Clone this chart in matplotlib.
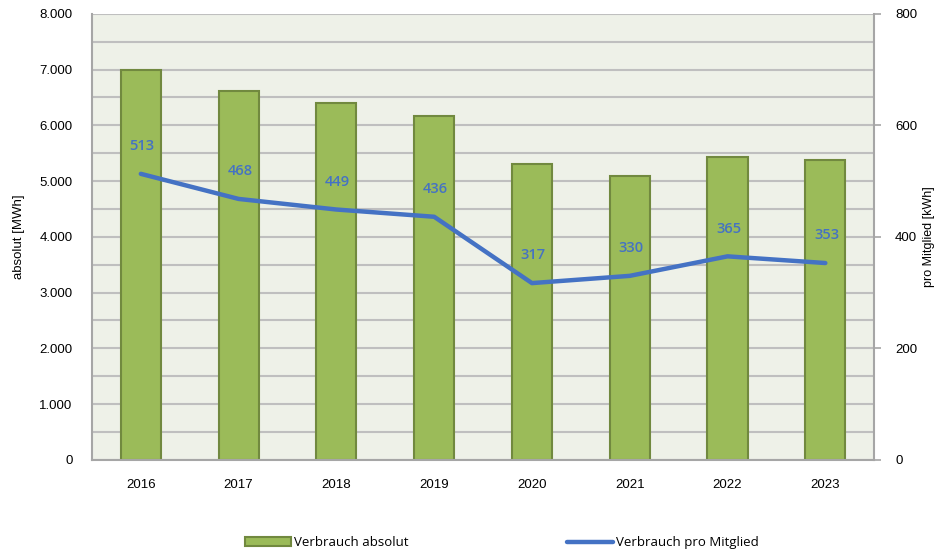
import matplotlib
matplotlib.use("Agg")
import matplotlib.pyplot as plt
import numpy as np
from matplotlib.ticker import FuncFormatter, MultipleLocator

years = ["2016", "2017", "2018", "2019", "2020", "2021", "2022", "2023"]
absolut_mwh = [7000, 6620, 6400, 6170, 5310, 5090, 5435, 5380]
pro_mitglied_kwh = [513, 468, 449, 436, 317, 330, 365, 353]

BAR = "#9BBB59"
BAR_EDGE = "#71893F"
LINE = "#4472C4"
GRID = "#BFBFBF"
BG = "#EEF1E8"

plt.rcParams["font.family"] = ["Liberation Sans", "DejaVu Sans"]

fig = plt.figure(figsize=(9.38, 5.54), dpi=100)
ax = fig.add_axes([0.098, 0.170, 0.834, 0.805])
ax.set_facecolor(BG)
x = np.arange(len(years))

ax.bar(x, absolut_mwh, width=0.41, color=BAR, edgecolor=BAR_EDGE,
       linewidth=1.5, zorder=2, label="Verbrauch absolut")
ax.set_xlim(-0.5, len(years) - 0.5)
ax.set_ylim(0, 8000)
ax.yaxis.set_major_locator(MultipleLocator(1000))
ax.yaxis.set_minor_locator(MultipleLocator(500))
ax.yaxis.set_major_formatter(FuncFormatter(lambda v, p: f"{int(v):,}".replace(",", ".")))
ax.grid(axis="y", which="both", color=GRID, linewidth=1.5, zorder=0)
ax.set_axisbelow(True)
ax.set_xticks(x, years)
ax.tick_params(axis="x", length=0, pad=14, labelsize=9.5)
ax.tick_params(axis="y", which="both", length=0, pad=14, labelsize=9.5)
ax.set_ylabel("absolut [MWh]", fontsize=9.5, labelpad=10)
for s in ("top", "right"):
    ax.spines[s].set_visible(False)
for s in ("left", "bottom"):
    ax.spines[s].set_color("#A6A6A6")
    ax.spines[s].set_linewidth(1.5)

ax2 = ax.twinx()
ax2.plot(x, pro_mitglied_kwh, color=LINE, linewidth=3.2,
         solid_capstyle="round", zorder=3, label="Verbrauch pro Mitglied")
ax2.set_ylim(0, 800)
ax2.yaxis.set_major_locator(MultipleLocator(200))
ax2.tick_params(axis="y", length=5, width=1.2, color="#A6A6A6", pad=10, labelsize=9.5)
ax2.set_ylabel("pro Mitglied [kWh]", fontsize=9, va="center")
ax2.yaxis.set_label_coords(1.07, 0.5)
for s in ("top", "left", "bottom"):
    ax2.spines[s].set_visible(False)
ax2.spines["right"].set_color("#A6A6A6")
ax2.spines["right"].set_linewidth(1.5)

for xi, v in zip(x, pro_mitglied_kwh):
    ax2.annotate(str(v), (xi, v), xytext=(1, 20), textcoords="offset points",
                 ha="center", va="center", color=LINE, fontsize=10.5,
                 fontweight="semibold", family=["Open Sans", "DejaVu Sans"])

h1, l1 = ax.get_legend_handles_labels()
h2, l2 = ax2.get_legend_handles_labels()
fig.legend(h1 + h2, l1 + l2, loc="center", bbox_to_anchor=(0.535, 0.02),
           ncol=2, frameon=False, columnspacing=12, handlelength=3.5,
           handletextpad=0.2, prop={"family": ["Open Sans", "DejaVu Sans"], "size": 9.5})

fig.savefig("out.png", dpi=100)
